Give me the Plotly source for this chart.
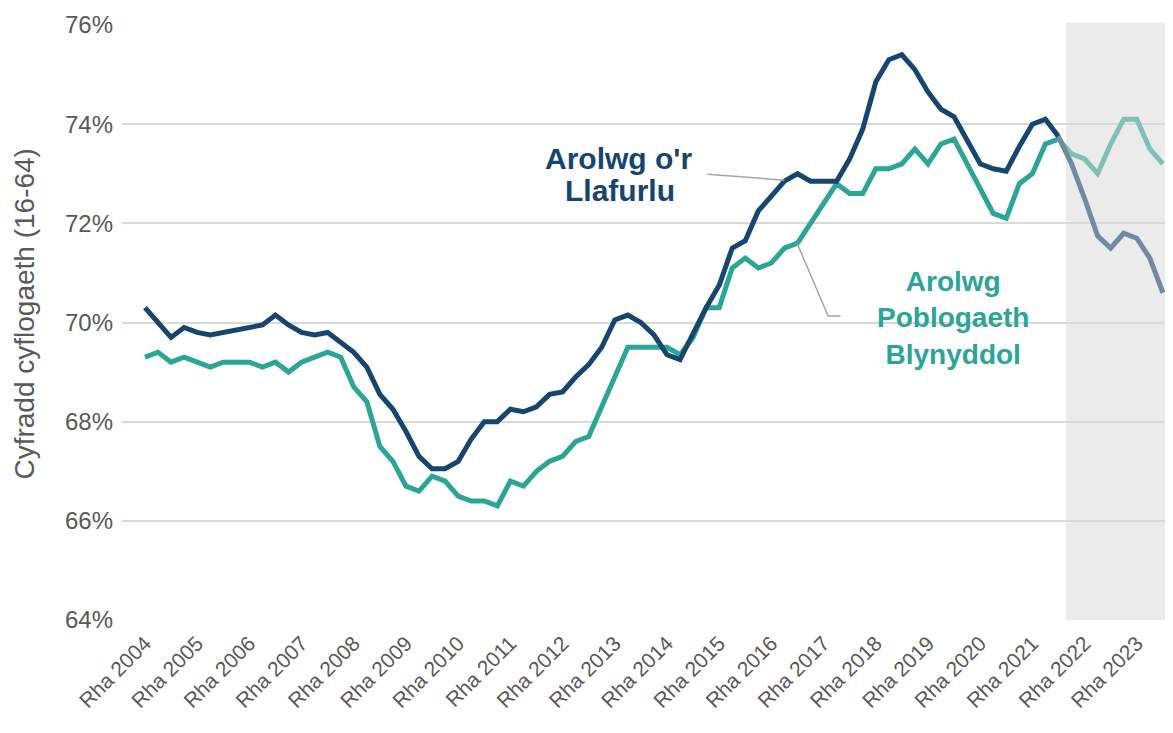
import plotly.graph_objects as go

# Quarter labels (Welsh month abbreviations), Dec 2004 .. Jun 2024
months = ["Rha", "Maw", "Meh", "Med"]
quarters = []
for i in range(79):
    m = months[i % 4]
    yr = 2004 + (i + 3) // 4
    quarters.append(f"{m} {yr}")

lfs = [70.3, 70.0, 69.7, 69.9, 69.8, 69.75, 69.8, 69.85, 69.9, 69.95,
       70.15, 69.95, 69.8, 69.75, 69.8, 69.6, 69.4, 69.1, 68.55, 68.25,
       67.8, 67.3, 67.05, 67.05, 67.2, 67.65, 68.0, 68.0, 68.25, 68.2,
       68.3, 68.55, 68.6, 68.9, 69.15, 69.5, 70.05, 70.15, 70.0, 69.75,
       69.35, 69.25, 69.8, 70.3, 70.75, 71.5, 71.65, 72.25, 72.55, 72.85,
       73.0, 72.85, 72.85, 72.85, 73.3, 73.9, 74.85, 75.3, 75.4, 75.1,
       74.65, 74.3, 74.15, 73.65, 73.2, 73.1, 73.05, 73.55, 74.0, 74.1,
       73.75, 73.2, 72.5, 71.75, 71.5, 71.8, 71.7, 71.3, 70.6]

aps = [69.3, 69.4, 69.2, 69.3, 69.2, 69.1, 69.2, 69.2, 69.2, 69.1,
       69.2, 69.0, 69.2, 69.3, 69.4, 69.3, 68.7, 68.4, 67.5, 67.2,
       66.7, 66.6, 66.9, 66.8, 66.5, 66.4, 66.4, 66.3, 66.8, 66.7,
       67.0, 67.2, 67.3, 67.6, 67.7, 68.3, 68.9, 69.5, 69.5, 69.5,
       69.5, 69.35, 69.7, 70.3, 70.3, 71.1, 71.3, 71.1, 71.2, 71.5,
       71.6, 72.0, 72.4, 72.8, 72.6, 72.6, 73.1, 73.1, 73.2, 73.5,
       73.2, 73.6, 73.7, 73.2, 72.7, 72.2, 72.1, 72.8, 73.0, 73.6,
       73.7, 73.4, 73.3, 73.0, 73.6, 74.1, 74.1, 73.5, 73.2]

tick_labels = quarters[0::4]
break_idx = 70  # start of shaded (faded) period

NAVY = "#16466F"
TEAL = "#2AA596"
NAVY_F = "#7189A2"
TEAL_F = "#80C1B7"
GREY_TXT = "#595959"
FONT = "Arial, Liberation Sans, sans-serif"
LW = 5

fig = go.Figure()
fig.add_trace(go.Scatter(x=quarters[:break_idx + 1], y=aps[:break_idx + 1], mode="lines",
                         line=dict(color=TEAL, width=LW), showlegend=False, hoverinfo="skip"))
fig.add_trace(go.Scatter(x=quarters[:break_idx + 1], y=lfs[:break_idx + 1], mode="lines",
                         line=dict(color=NAVY, width=LW), showlegend=False, hoverinfo="skip"))
fig.add_trace(go.Scatter(x=quarters[break_idx:], y=aps[break_idx:], mode="lines",
                         line=dict(color=TEAL_F, width=LW), showlegend=False, hoverinfo="skip"))
fig.add_trace(go.Scatter(x=quarters[break_idx:], y=lfs[break_idx:], mode="lines",
                         line=dict(color=NAVY_F, width=LW), showlegend=False, hoverinfo="skip"))

# shaded recent period
fig.add_shape(type="rect", xref="x", yref="paper", x0=break_idx + 0.57, x1=78.7, y0=0, y1=1.004,
              fillcolor="#EBEBEB", line=dict(width=0), layer="below")

# leader lines
fig.add_shape(type="line", xref="x", yref="y", x0=43.1, y0=72.99, x1=49.0, y1=72.87,
              line=dict(color="#A6A6A6", width=1.5))
fig.add_shape(type="path", xref="x", yref="y",
              path="M 50.0,71.58 L 52.35,70.13 L 53.3,70.13",
              line=dict(color="#A6A6A6", width=1.5))

# series labels
fig.add_annotation(x=36.3, y=73.3, xref="x", yref="y", text="<b>Arolwg o'r</b>",
                   showarrow=False, font=dict(family=FONT, size=30, color=NAVY))
fig.add_annotation(x=36.4, y=72.66, xref="x", yref="y", text="<b>Llafurlu</b>",
                   showarrow=False, font=dict(family=FONT, size=30, color=NAVY))
fig.add_annotation(x=61.9, y=70.09, xref="x", yref="y",
                   text="<b>Arolwg<br>Poblogaeth<br>Blynyddol</b>",
                   showarrow=False, font=dict(family=FONT, size=28, color=TEAL), align="center")

# y-axis title
fig.add_annotation(x=0, y=0.515, xref="paper", yref="paper", xanchor="center", yanchor="middle",
                   xshift=-97, text="Cyfradd cyflogaeth (16-64)", textangle=-90,
                   showarrow=False, font=dict(family=FONT, size=28, color=GREY_TXT))

# page body has an 8px margin: shrink the figure so the plot lands where the reference has it
fig.update_layout(
    width=1165, height=725,
    margin=dict(l=114, r=1, t=17, b=113, autoexpand=False),
    paper_bgcolor="white", plot_bgcolor="white",
    font=dict(family=FONT, color=GREY_TXT),
    xaxis=dict(type="category", range=[-1.76, 78.7], tickmode="array",
               tickvals=tick_labels, ticktext=tick_labels, tickangle=-45,
               tickfont=dict(size=21, color=GREY_TXT), showgrid=False, zeroline=False,
               showline=False, ticks="", automargin=False, ticklabelstandoff=6),
    yaxis=dict(range=[64, 76], dtick=2, ticksuffix="%", showgrid=True,
               gridcolor="#D9D9D9", gridwidth=1.5, zeroline=False, showline=False,
               tickfont=dict(size=24, color=GREY_TXT), ticks="", ticklabelstandoff=8,
               automargin=False),
)

fig.write_html("out.html")
